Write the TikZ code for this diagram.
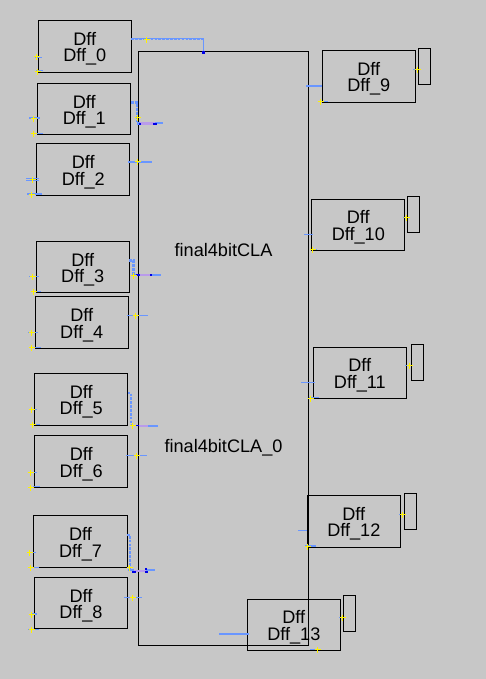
\documentclass[tikz,border=0pt]{standalone}
\usepackage{fontspec}
\setmainfont{Liberation Sans}
\usepackage{xcolor}
\usetikzlibrary{positioning}
\definecolor{panelgray}{RGB}{199,199,199}
\definecolor{netblue}{RGB}{105,150,255}
\definecolor{netdark}{RGB}{0,0,230}
\definecolor{netmix}{RGB}{185,155,235}
\newcommand{\dfflabel}[1]{\rule{0pt}{13.6pt}Dff\\[-1.2pt]Dff\_#1}

\begin{document}
\begin{tikzpicture}[
  x=.75pt, y=-.75pt,
  line width=.75pt,
  font=\fontsize{13.6}{13.6}\selectfont,
  dffbox/.style={draw=black, minimum width=69.9pt, minimum height=38.7pt,
                 align=center, inner sep=0pt, outer sep=0pt},
  portbox/.style={draw=black, minimum width=9pt, minimum height=27pt, inner sep=0pt, outer sep=0pt},
  topbox/.style={draw=black, minimum width=127.3pt, minimum height=445.5pt, inner sep=0pt},
  toplabel/.style={inner sep=0pt},
  stub/.style={draw=netblue, line width=1.1pt},
  fatstub/.style={draw=netblue, line width=1.6pt},
  net/.style={draw=netblue, line width=1.8pt, dash pattern=on 2pt off .9pt},
  netthin/.style={draw=netblue, line width=.75pt},
  netend/.style={draw=netdark, line width=1pt},
  netcross/.style={draw=netmix, line width=2pt},
  pinmark/.style={draw=yellow, line width=.6pt}
]
% --- background ---
\fill[panelgray] (0,0) rectangle (486,679);
\useasboundingbox (0,0) rectangle (486,679);
% --- top module ---
\node[topbox] (main) at (223.2,348.2) {};
\node[toplabel] (cla) at (223.5,250) {final4bitCLA};
\node[toplabel] (cla0) at (223.5,448) {final4bitCLA\_0};
% --- left column ---
\node[dffbox] (dff0) at (84.8,46.2) {\dfflabel{0}};
\node[dffbox, below=8.4pt of dff0, xshift=-.4pt] (dff1) {\dfflabel{1}};
\node[dffbox, below=6.75pt of dff1, xshift=-.75pt] (dff2) {\dfflabel{2}};
\node[dffbox, below=34.4pt of dff2, xshift=-.4pt] (dff3) {\dfflabel{3}};
\node[dffbox, below=3pt of dff3, xshift=-.75pt] (dff4) {\dfflabel{4}};
\node[dffbox, below=18.75pt of dff4, xshift=-.4pt] (dff5) {\dfflabel{5}};
\node[dffbox, below=8.1pt of dff5] (dff6) {\dfflabel{6}};
\node[dffbox, below=21.2pt of dff6, xshift=-.5pt] (dff7) {\dfflabel{7}};
\node[dffbox, below=7.5pt of dff7, xshift=.3pt] (dff8) {\dfflabel{8}};
% --- right column ---
\node[dffbox] (dff9) at (368.8,76.3) {\dfflabel{9}};
\node[dffbox] (dff10) at (358.3,224.8) {\dfflabel{10}};
\node[dffbox] (dff11) at (359.8,372.8) {\dfflabel{11}};
\node[dffbox] (dff12) at (353.8,521.2) {\dfflabel{12}};
\node[dffbox] (dff13) at (293.8,624.8) {\dfflabel{13}};
% --- side boxes ---
\node[portbox, right=2.3pt of dff9, yshift=7.5pt] (port9) {};
\node[portbox, right=2.3pt of dff10, yshift=7.9pt] (port10) {};
\node[portbox, right=3.8pt of dff11, yshift=7.9pt] (port11) {};
\node[portbox, right=3pt of dff12, yshift=7.3pt] (port12) {};
\node[portbox, right=2.3pt of dff13, yshift=8.2pt] (port13) {};
% --- nets leaving the left column ---
\draw[netthin] ([yshift=5.6pt]dff0.east) -| ([xshift=-15pt]main.north);
\draw[net, line width=.9pt] ([yshift=4.8pt]dff0.east) -| ([xshift=-15pt]main.north);
\draw[net] ([yshift=4.8pt]dff1.east) -- ++(6,0) |- (140,123.5);
\draw[net] ([yshift=4.9pt]dff3.east) -- ++(4,0) |- (136,275);
\draw[net] ([yshift=4.9pt]dff5.east) -- ++(3,0) |- (134,425);
\draw[net] ([yshift=4.9pt]dff7.east) -- ++(3,0) |- (132,570);
\foreach \xa/\xb/\ya in {140/155/123.5, 139/151/275, 139/148/426, 134/146/571}
  \draw[netcross] (\xa,\ya) -- (\xb,\ya);
\foreach \xa/\xb/\ya in {155/163/122.7, 150/161/275, 148/158/426, 146/155/570, 128/134/570}
  \draw[fatstub] (\xa,\ya) -- (\xb,\ya);
\foreach \xa/\xb/\ya in {139/141/124, 153/157/124, 136/140/275, 150/152/275, 135/139/425.5, 132/136/572, 145/148/572, 145/147/569}
  \draw[netend] (\xa,\ya) -- (\xb,\ya);
\fill[netdark] (201.5,50.5) rectangle (204.5,53.5);
% --- short stubs ---
\foreach \xa/\xb/\ya in {35/42/57, 36/43/70, 33/43/133, 31/41/291, 31/41/347, 28/38/332, 29/39/276,
    29/37/409, 33/40/424, 126/147/455, 28/36/552, 30/39/567, 28/39/629, 33/40/486, 29/37/472,
    26/39/178, 26/39/180, 127/148/315, 124/142/597, 413/421/69, 403/410/217, 405/413/365,
    399/404/514, 339/345/617, 310/319/649, 298/307/530, 301/315/382, 304/313/234, 311/317/249, 318/328/101, 309/319/397}
  \draw[stub] (\xa,\ya+.5) -- (\xb,\ya+.5);
\foreach \xa/\xb/\ya in {29/40/118, 128/152/162, 27/42/194, 31/37/614, 219/249/634, 306/322/86, 305/316/546}
  \draw[fatstub] (\xa,\ya) -- (\xb,\ya);
% --- pin marks ---
\foreach \xa/\ya in {36/56, 37/71, 146/39, 33/118, 33/133, 137/117, 32/179, 31/194, 137/161,
    32/276, 33/291, 133/275, 135/315, 31/332, 31/347, 31/409, 32/424, 132/425,
    30/472, 30/487, 136/455, 29/552, 30/567, 129/567, 132/597, 31/614, 31/629,
    320/101, 417/69, 312/249, 406/217, 310/398, 409/365, 402/514, 307/546, 342/617, 317/649}
  \draw[pinmark] (\xa-2.5,\ya+.5) -- (\xa+3.5,\ya+.5) (\xa+.5,\ya-2.5) -- (\xa+.5,\ya+3.5);
\end{tikzpicture}
\end{document}
